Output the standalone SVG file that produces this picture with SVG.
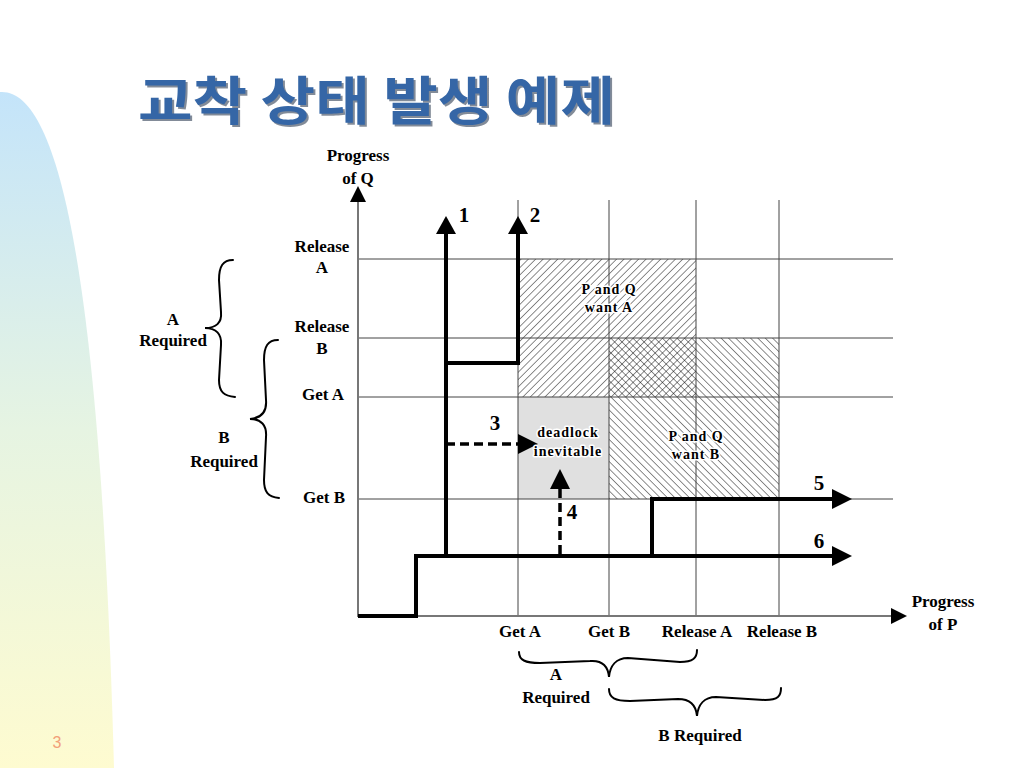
<svg xmlns="http://www.w3.org/2000/svg" width="1024" height="768" viewBox="0 0 1024 768">
<defs>
  <linearGradient id="bg" x1="0" y1="0" x2="0" y2="1">
    <stop offset="0" stop-color="#c4e4fa"/>
    <stop offset="0.5" stop-color="#e6f4e2"/>
    <stop offset="1" stop-color="#fefbd0"/>
  </linearGradient>
  <pattern id="fwd" width="5.2" height="5.2" patternUnits="userSpaceOnUse" patternTransform="rotate(45)">
    <line x1="0" y1="0" x2="0" y2="5.2" stroke="#000" stroke-width="0.9"/>
  </pattern>
  <pattern id="bwd" width="5.2" height="5.2" patternUnits="userSpaceOnUse" patternTransform="rotate(-45)">
    <line x1="0" y1="0" x2="0" y2="5.2" stroke="#000" stroke-width="0.9"/>
  </pattern>
  <style>
    .t{font-family:"Liberation Serif","Times New Roman",serif;font-weight:bold;font-size:17px;fill:#000;text-anchor:middle}
    .s{font-family:"Liberation Serif","Times New Roman",serif;font-weight:bold;font-size:14px;letter-spacing:1px;fill:#000;text-anchor:middle;stroke:#fff;stroke-width:3px;paint-order:stroke;stroke-linejoin:round}
    .n{font-family:"Liberation Serif","Times New Roman",serif;font-weight:bold;font-size:21px;fill:#000;text-anchor:middle}
    .grid{stroke:#444;stroke-width:1;fill:none}
    .axis{stroke:#777;stroke-width:2;fill:none}
    .path{stroke:#000;stroke-width:4;fill:none;stroke-linejoin:miter}
    .dash{stroke:#000;stroke-width:3.5;fill:none;stroke-dasharray:9 5}
    .brace{stroke:#000;stroke-width:2;fill:none;stroke-linecap:round}
    .head{fill:#000}
    .title{font-family:"Noto Sans CJK KR","Noto Sans CJK SC",sans-serif;font-weight:bold;font-size:52px}
  </style>
</defs>

<rect x="0" y="0" width="1024" height="768" fill="#fff"/>
<path d="M0,92 C55,88 100,250 114,768 L0,768 Z" fill="url(#bg)"/>

<g id="title">
  <text x="140" y="122" class="title" fill="#1c2c44" fill-opacity="0.55" textLength="477" lengthAdjust="spacingAndGlyphs">교착 상태 발생 예제</text>
  <text x="138" y="120" class="title" fill="#3566a6" textLength="477" lengthAdjust="spacingAndGlyphs">교착 상태 발생 예제</text>
</g>

<g id="regions">
  <rect id="region-want-a" x="518" y="259" width="178" height="138" fill="url(#fwd)"/>
  <rect id="region-want-b" x="609" y="338" width="170" height="161" fill="url(#bwd)"/>
  <rect id="region-deadlock" x="518" y="397" width="91" height="102" fill="#e0e0e0"/>
</g>

<g id="grid">
  <line class="grid" x1="358" y1="259" x2="893" y2="259"/>
  <line class="grid" x1="358" y1="338" x2="893" y2="338"/>
  <line class="grid" x1="358" y1="397" x2="893" y2="397"/>
  <line class="grid" x1="358" y1="499" x2="893" y2="499"/>
  <line class="grid" x1="518" y1="200" x2="518" y2="616"/>
  <line class="grid" x1="609" y1="200" x2="609" y2="616"/>
  <line class="grid" x1="696" y1="200" x2="696" y2="616"/>
  <line class="grid" x1="779" y1="200" x2="779" y2="616"/>
</g>

<g id="axes">
  <line class="axis" x1="358" y1="617" x2="358" y2="200"/>
  <polygon class="head" points="358,186 366,202 350,202"/>
  <line class="axis" x1="357" y1="616" x2="892" y2="616"/>
  <polygon class="head" points="907,616 891,608 891,624"/>
</g>

<g id="connectors">
  <polyline class="path" points="358,616 416,616 416,556 834,556"/>
  <polygon class="head" points="852,556 832,546 832,566"/>
  <polyline class="path" points="446,556 446,232"/>
  <polygon class="head" points="446,216 456,234 436,234"/>
  <polyline class="path" points="446,363 518,363 518,232"/>
  <polygon class="head" points="518,216 528,234 508,234"/>
  <polyline class="path" points="652,556 652,499 834,499"/>
  <polygon class="head" points="852,499 832,489 832,509"/>
  <line class="dash" x1="446" y1="444" x2="518" y2="444"/>
  <polygon class="head" points="538,444 518,434 518,454"/>
  <line class="dash" x1="560" y1="554" x2="560" y2="488"/>
  <polygon class="head" points="560,469 570,489 550,489"/>
</g>

<g id="path-labels">
  <text class="n" x="464" y="222">1</text>
  <text class="n" x="535" y="222">2</text>
  <text class="n" x="495" y="430">3</text>
  <text class="n" x="572" y="519">4</text>
  <text class="n" x="819" y="490">5</text>
  <text class="n" x="819" y="548">6</text>
</g>

<g id="region-labels">
  <text class="s" x="609" y="294">P and Q</text>
  <text class="s" x="609" y="312">want A</text>
  <text class="s" x="696" y="441">P and Q</text>
  <text class="s" x="696" y="459">want B</text>
  <text class="s" x="568" y="437" stroke="none">deadlock</text>
  <text class="s" x="568" y="456" stroke="none">inevitable</text>
</g>

<g id="axis-labels">
  <text class="t" x="358" y="161">Progress</text>
  <text class="t" x="358" y="184">of Q</text>
  <text class="t" x="943" y="607">Progress</text>
  <text class="t" x="943" y="630">of P</text>
  <text class="t" x="322" y="252">Release</text>
  <text class="t" x="322" y="273">A</text>
  <text class="t" x="322" y="332">Release</text>
  <text class="t" x="322" y="354">B</text>
  <text class="t" x="323" y="400">Get A</text>
  <text class="t" x="324" y="503">Get B</text>
  <text class="t" x="520" y="637">Get A</text>
  <text class="t" x="609" y="637">Get B</text>
  <text class="t" x="697" y="637">Release A</text>
  <text class="t" x="782" y="637">Release B</text>
</g>

<g id="brace-q-a">
  <path class="brace" d="M233,260 C223,260 219,266 219,280 L221,312 C222,323 216,328 205,328 C216,328 222,334 221,345 L219,380 C219,392 224,396 235,397"/>
  <text class="t" x="173" y="325">A</text>
  <text class="t" x="173" y="346">Required</text>
</g>
<g id="brace-q-b">
  <path class="brace" d="M278,340 C268,340 264,346 264,360 L266,400 C267,412 261,418 250,419 C261,419 267,425 266,437 L264,480 C264,492 268,497 279,498"/>
  <text class="t" x="224" y="443">B</text>
  <text class="t" x="224" y="467">Required</text>
</g>
<g id="brace-p-a">
  <path class="brace" d="M519,652 C519,660 525,663 540,663 L590,661 C602,660 608,666 609,677 C610,666 616,658 628,658 L680,662 C693,662 697,658 697,650"/>
  <text class="t" x="556" y="680">A</text>
  <text class="t" x="556" y="703">Required</text>
</g>
<g id="brace-p-b">
  <path class="brace" d="M609,689 C609,698 615,701 630,701 L678,699 C690,699 696,705 697,716 C698,705 704,697 716,697 L765,700 C778,700 781,696 781,688"/>
  <text class="t" x="700" y="741">B Required</text>
</g>

<text x="57" y="748" font-family="Liberation Sans, Arial, sans-serif" font-size="16" fill="#f2a078" text-anchor="middle">3</text>
</svg>
